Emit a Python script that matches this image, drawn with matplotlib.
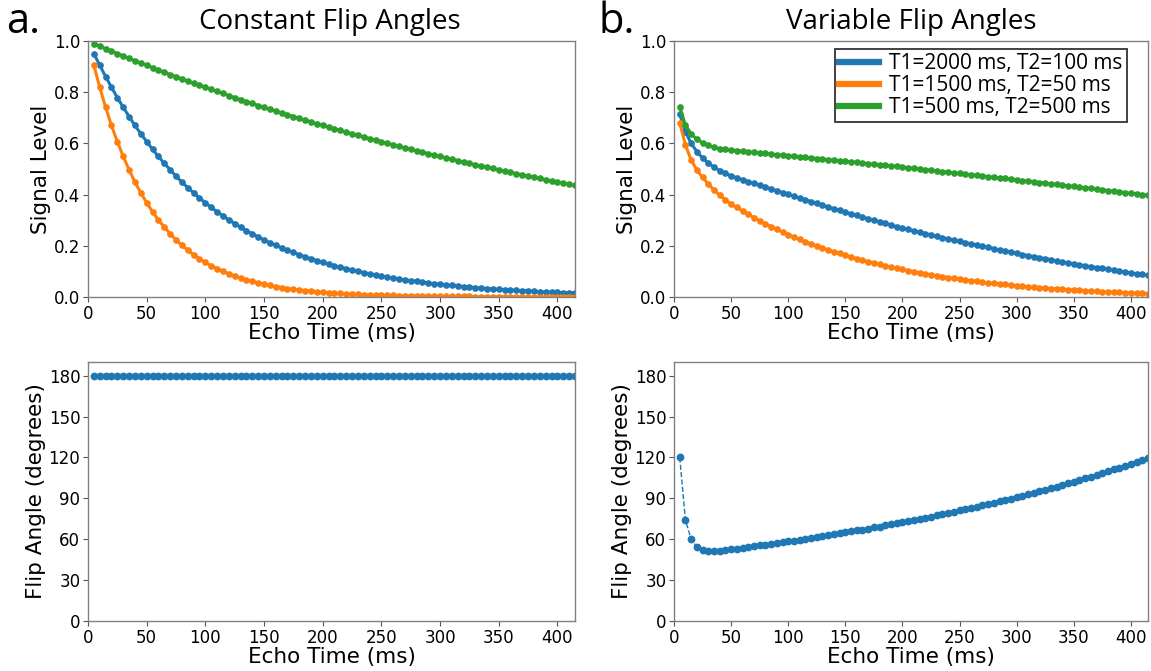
import matplotlib
matplotlib.use("Agg")
import matplotlib.pyplot as plt
from matplotlib.lines import Line2D

echo_time = [5 * k for k in range(1, 84)]

const_flip = [180] * 83

const_blue = [0.951, 0.905, 0.861, 0.819, 0.779, 0.741, 0.705, 0.670, 0.638, 0.607,
              0.577, 0.549, 0.522, 0.497, 0.472, 0.449, 0.427, 0.407, 0.387, 0.368,
              0.350, 0.333, 0.317, 0.301, 0.287, 0.273, 0.259, 0.247, 0.235, 0.223,
              0.212, 0.202, 0.192, 0.183, 0.174, 0.165, 0.157, 0.150, 0.142, 0.135,
              0.129, 0.122, 0.116, 0.111, 0.105, 0.100, 0.095, 0.091, 0.086, 0.082,
              0.078, 0.074, 0.071, 0.067, 0.064, 0.061, 0.058, 0.055, 0.052, 0.050,
              0.047, 0.045, 0.043, 0.041, 0.039, 0.037, 0.035, 0.033, 0.032, 0.030,
              0.029, 0.027, 0.026, 0.025, 0.024, 0.022, 0.021, 0.020, 0.019, 0.018,
              0.017, 0.017, 0.016]
const_orange = [0.905, 0.819, 0.741, 0.670, 0.607, 0.549, 0.497, 0.449, 0.407, 0.368,
                0.333, 0.301, 0.273, 0.247, 0.223, 0.202, 0.183, 0.165, 0.150, 0.135,
                0.122, 0.111, 0.100, 0.091, 0.082, 0.074, 0.067, 0.061, 0.055, 0.050,
                0.045, 0.041, 0.037, 0.033, 0.030, 0.027, 0.025, 0.022, 0.020, 0.018,
                0.017, 0.015, 0.014, 0.012, 0.011, 0.010, 0.009, 0.008, 0.007, 0.007,
                0.006, 0.006, 0.005, 0.005, 0.004, 0.004, 0.003, 0.003, 0.003, 0.002,
                0.002, 0.002, 0.002, 0.002, 0.002, 0.001, 0.001, 0.001, 0.001, 0.001,
                0.001, 0.001, 0.001, 0.001, 0.001, 0.000, 0.000, 0.000, 0.000, 0.000,
                0.000, 0.000, 0.000]
const_green = [0.990, 0.980, 0.970, 0.961, 0.951, 0.942, 0.932, 0.923, 0.914, 0.905,
               0.896, 0.887, 0.878, 0.869, 0.861, 0.852, 0.844, 0.835, 0.827, 0.819,
               0.811, 0.803, 0.795, 0.787, 0.779, 0.771, 0.763, 0.756, 0.748, 0.741,
               0.733, 0.726, 0.719, 0.712, 0.705, 0.698, 0.691, 0.684, 0.677, 0.670,
               0.664, 0.657, 0.651, 0.644, 0.638, 0.631, 0.625, 0.619, 0.613, 0.607,
               0.600, 0.595, 0.589, 0.583, 0.577, 0.571, 0.566, 0.560, 0.554, 0.549,
               0.543, 0.538, 0.533, 0.527, 0.522, 0.517, 0.512, 0.507, 0.502, 0.497,
               0.492, 0.487, 0.482, 0.477, 0.472, 0.468, 0.463, 0.458, 0.454, 0.449,
               0.445, 0.440, 0.436]

var_flip = [120.0, 74.0, 60.0, 54.4, 52.2, 51.5, 51.5, 51.7, 52.0, 52.5,
            53.0, 53.6, 54.2, 54.8, 55.4, 56.0, 56.6, 57.2, 57.8, 58.4,
            59.0, 59.6, 60.3, 60.9, 61.6, 62.2, 62.9, 63.6, 64.3, 65.0,
            65.7, 66.4, 67.1, 67.8, 68.6, 69.3, 70.1, 70.9, 71.7, 72.5,
            73.3, 74.1, 74.9, 75.8, 76.6, 77.5, 78.4, 79.3, 80.2, 81.1,
            82.0, 82.9, 83.9, 84.8, 85.8, 86.8, 87.8, 88.8, 89.8, 90.9,
            91.9, 93.0, 94.1, 95.2, 96.3, 97.5, 98.6, 99.8, 101.0, 102.2,
            103.4, 104.7, 105.9, 107.2, 108.5, 109.8, 111.2, 112.5, 113.9, 115.3,
            116.7, 118.2, 119.6]

var_blue = [0.714, 0.646, 0.600, 0.568, 0.543, 0.523, 0.507, 0.494, 0.483, 0.473,
            0.466, 0.458, 0.451, 0.444, 0.437, 0.430, 0.422, 0.415, 0.408, 0.401,
            0.394, 0.387, 0.380, 0.373, 0.366, 0.359, 0.352, 0.345, 0.338, 0.331,
            0.325, 0.319, 0.312, 0.306, 0.300, 0.294, 0.288, 0.281, 0.275, 0.269,
            0.264, 0.258, 0.253, 0.248, 0.243, 0.237, 0.232, 0.227, 0.222, 0.217,
            0.212, 0.208, 0.203, 0.198, 0.194, 0.189, 0.184, 0.180, 0.175, 0.170,
            0.166, 0.162, 0.158, 0.154, 0.150, 0.146, 0.141, 0.137, 0.133, 0.129,
            0.126, 0.122, 0.119, 0.115, 0.112, 0.108, 0.105, 0.101, 0.098, 0.094,
            0.091, 0.088, 0.084]
var_orange = [0.681, 0.594, 0.535, 0.496, 0.467, 0.441, 0.418, 0.398, 0.380, 0.363,
              0.350, 0.336, 0.323, 0.310, 0.298, 0.286, 0.275, 0.264, 0.254, 0.244,
              0.234, 0.225, 0.216, 0.208, 0.200, 0.192, 0.184, 0.177, 0.170, 0.163,
              0.157, 0.150, 0.144, 0.138, 0.133, 0.127, 0.122, 0.117, 0.112, 0.108,
              0.103, 0.099, 0.095, 0.091, 0.087, 0.083, 0.080, 0.076, 0.073, 0.070,
              0.067, 0.064, 0.061, 0.058, 0.056, 0.053, 0.051, 0.049, 0.046, 0.044,
              0.042, 0.040, 0.038, 0.037, 0.035, 0.033, 0.032, 0.030, 0.029, 0.027,
              0.026, 0.025, 0.023, 0.022, 0.021, 0.020, 0.019, 0.018, 0.017, 0.016,
              0.015, 0.014, 0.013]
var_green = [0.743, 0.672, 0.637, 0.616, 0.602, 0.592, 0.585, 0.580, 0.577, 0.574,
             0.572, 0.569, 0.567, 0.565, 0.563, 0.561, 0.558, 0.556, 0.554, 0.552,
             0.550, 0.548, 0.545, 0.543, 0.541, 0.539, 0.537, 0.535, 0.532, 0.530,
             0.528, 0.526, 0.524, 0.521, 0.519, 0.517, 0.515, 0.512, 0.510, 0.508,
             0.505, 0.503, 0.500, 0.498, 0.495, 0.493, 0.490, 0.488, 0.485, 0.483,
             0.480, 0.478, 0.475, 0.473, 0.470, 0.468, 0.465, 0.463, 0.460, 0.458,
             0.455, 0.452, 0.450, 0.447, 0.445, 0.442, 0.440, 0.437, 0.434, 0.432,
             0.429, 0.427, 0.424, 0.421, 0.419, 0.416, 0.413, 0.411, 0.408, 0.405,
             0.403, 0.400, 0.397]

series_labels = ["T1=2000 ms, T2=100 ms", "T1=1500 ms, T2=50 ms", "T1=500 ms, T2=500 ms"]
colors = ["#1f77b4", "#ff7f0e", "#2ca02c"]
panel_titles = ["Constant Flip Angles", "Variable Flip Angles"]
panel_letters = ["a.", "b."]

W, H = 1151, 671
fig = plt.figure(figsize=(W / 100, H / 100), dpi=100)

def rect(x0, y0, x1, y1):
    return [x0 / W, 1 - y1 / H, (x1 - x0) / W, (y1 - y0) / H]

ax_tl = fig.add_axes(rect(88, 41, 575, 297))
ax_tr = fig.add_axes(rect(674, 41, 1148, 297))
ax_bl = fig.add_axes(rect(88, 362, 575, 621))
ax_br = fig.add_axes(rect(674, 362, 1148, 621))

tick_fs = 12
label_fs = 15.5

def style(ax):
    for s in ax.spines.values():
        s.set_color("#808080")
        s.set_linewidth(1.0)
    ax.tick_params(labelsize=tick_fs, color="#555555", length=3.5, width=0.8, pad=2)
    ax.set_xlim(0, 415)
    ax.set_xticks(range(0, 401, 50))
    ax.set_xlabel("Echo Time (ms)", fontsize=label_fs, labelpad=0)

for ax, sig in [(ax_tl, [const_blue, const_orange, const_green]),
                (ax_tr, [var_blue, var_orange, var_green])]:
    for vals, c in zip(sig, colors):
        ax.plot(echo_time, vals, color=c, lw=2.2, marker="o", ms=3.8, clip_on=True)
    ax.set_ylim(0, 1.0)
    ax.set_yticks([0, 0.2, 0.4, 0.6, 0.8, 1.0])
    ax.set_ylabel("Signal Level", fontsize=label_fs, labelpad=2)
    style(ax)

for ax, fl in [(ax_bl, const_flip), (ax_br, var_flip)]:
    ax.plot(echo_time, fl, color=colors[0], lw=1.0, ls="--", marker="o", ms=4.6)
    ax.set_ylim(0, 190)
    ax.set_yticks(range(0, 181, 30))
    ax.set_ylabel("Flip Angle (degrees)", fontsize=label_fs, labelpad=2)
    style(ax)

handles = [Line2D([0], [0], color=c, lw=4.5) for c in colors]
leg = ax_tr.legend(handles, series_labels, loc="upper right",
                   bbox_to_anchor=(0.955, 0.97), frameon=True, fancybox=False,
                   prop={"family": "Open Sans", "size": 15},
                   handlelength=1.9, handletextpad=0.5, borderpad=0.2,
                   labelspacing=0.05, borderaxespad=0.0)
leg.get_frame().set_edgecolor("black")
leg.get_frame().set_linewidth(1.3)

title_font = {"family": "Open Sans", "size": 20}
fig.text(330 / W, 1 - 29 / H, panel_titles[0], ha="center", va="baseline", **title_font)
fig.text(911 / W, 1 - 29 / H, panel_titles[1], ha="center", va="baseline", **title_font)
fig.text(6 / W, 1 - 33 / H, panel_letters[0], ha="left", va="baseline", family="Open Sans", size=30)
fig.text(598 / W, 1 - 33 / H, panel_letters[1], ha="left", va="baseline", family="Open Sans", size=30)

fig.savefig("out.png", dpi=100)
